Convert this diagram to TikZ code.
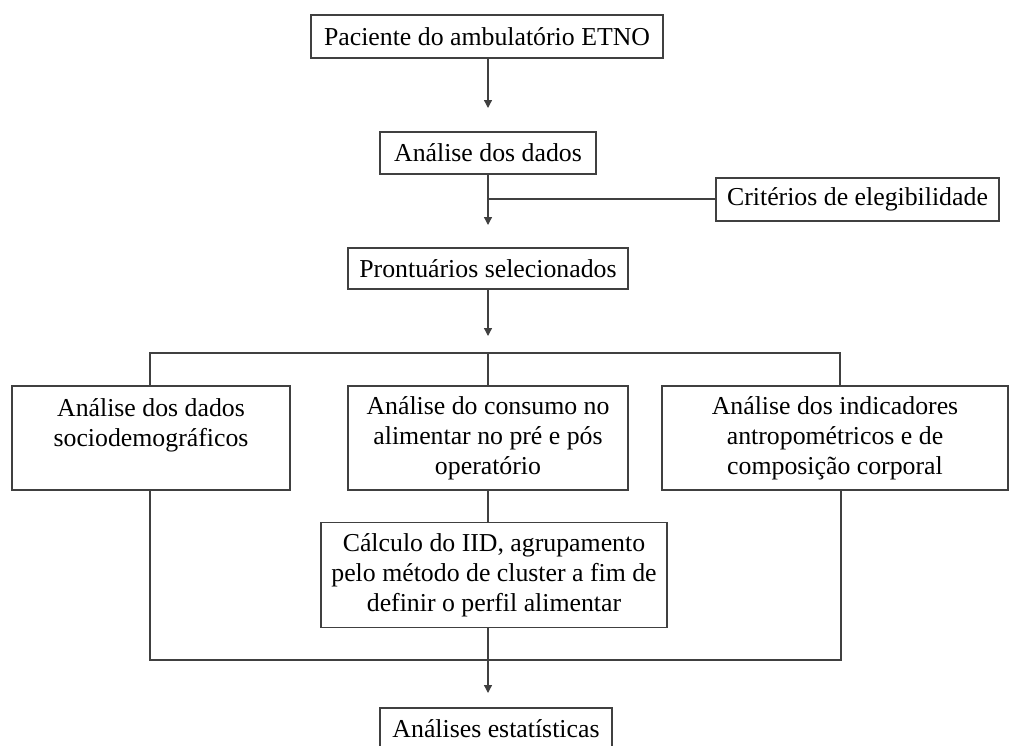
\documentclass[tikz,border=0pt]{standalone}
\usepackage{fontspec}
\setmainfont{Liberation Serif}
\usetikzlibrary{arrows.meta}

\begin{document}
\begin{tikzpicture}[x=1pt,y=-1pt,
	caixa/.style={draw=black!75,line width=1.3pt,rectangle,inner sep=0pt,align=center,font=\fontsize{25.8}{30}\selectfont},
	liga/.style={draw=black!75,line width=1.3pt},
	seta/.style={liga,-{Triangle[length=8pt,width=8pt]}}]
				%%%%% FLUXO %%%%%
				\def\xc{488}
				\def\ya{353}
				\def\yb{660}
				\def\alta{104}
				\useasboundingbox (0,0) rectangle (1011,745);

				\node[caixa,minimum width=352,minimum height=43] (paciente) at (487,36.5) {Paciente do ambulatório ETNO};
				\node[caixa,minimum width=216,minimum height=42] (dados) at (488,153) {Análise  dos dados};
				\node[caixa,minimum width=283,minimum height=43] (criterios) at (857.5,199.5) {Critérios  de elegibilidade};
				\node[caixa,minimum width=280,minimum height=41] (prontuarios) at (488,268.5) {Prontuários selecionados};

				\node[caixa,minimum width=278,minimum height=\alta] (socio) at (151,438) {Análise  dos dados\\sociodemográficos\\\mbox{}};
				\node[caixa,minimum width=280,minimum height=\alta] (consumo) at (488,438) {Análise  do consumo no\\alimentar no pré e pós\\operatório};
				\node[caixa,minimum width=346,minimum height=\alta] (antropo) at (835,438) {Análise  dos indicadores\\antropométricos e de\\composição corporal};

				\node[caixa,minimum width=346,minimum height=105] (calculo) at (494,575) {Cálculo  do IID, agrupamento\\pelo método de cluster a fim de\\definir  o perfil alimentar};
				\node[caixa,minimum width=232,minimum height=42] (estatisticas) at (496,729) {Análises  estatísticas};

				\coordinate (t1) at (\xc,108);
				\coordinate (t2) at (\xc,225);
				\coordinate (t3) at (\xc,336);
				\coordinate (t4) at (\xc,693);
				\coordinate (r1) at (\xc,199);
				\coordinate (e1) at (150,\ya);
				\coordinate (e3) at (840,\ya);
				\coordinate (f1) at (150,\yb);
				\coordinate (f3) at (841,\yb);

				\draw[seta] (paciente.south -| t1) -- (t1);
				\draw[seta] (dados.south -| t2) -- (t2);
				\draw[liga] (r1) -- (r1 -| criterios.west);
				\draw[seta] (prontuarios.south -| t3) -- (t3);

				\draw[liga] (socio.north -| e1) -- (e1) -- (e3) -- (antropo.north -| e3);
				\draw[liga] (consumo.north) -- (consumo.north |- e1);
				\draw[liga] (consumo.south) -- (consumo.south |- calculo.north);

				\draw[liga] (socio.south -| f1) -- (f1) -- (f3) -- (antropo.south -| f3);
				\draw[seta] (calculo.south -| t4) -- (t4);
				%%%%% FLUXO %%%%%
\end{tikzpicture}
\end{document}
